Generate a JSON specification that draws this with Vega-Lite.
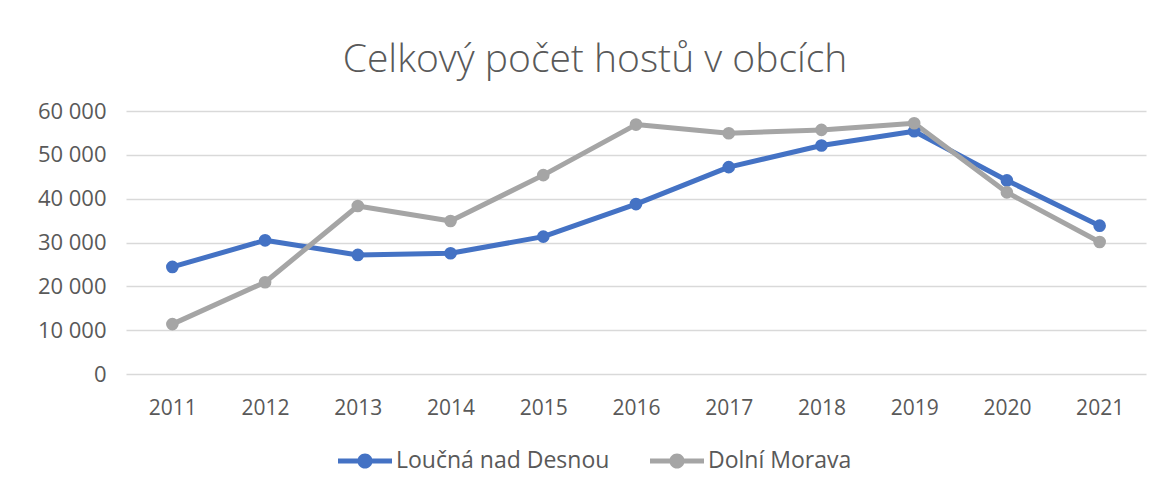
{
  "$schema": "https://vega.github.io/schema/vega-lite/v6.json",
  "width": 1020,
  "height": 263,
  "autosize": {"type": "none"},
  "padding": {"left": 126, "top": 111, "right": 23, "bottom": 116},
  "background": "white",
  "title": {
    "text": "Celkový počet hostů v obcích",
    "font": "Open Sans",
    "fontSize": 39,
    "fontWeight": 300,
    "color": "#595959",
    "anchor": "middle",
    "dx": -41,
    "offset": 20
  },
  "data": {
    "values": [
      {"rok": "2011", "obec": "Loučná nad Desnou", "hoste": 24430},
      {"rok": "2012", "obec": "Loučná nad Desnou", "hoste": 30500},
      {"rok": "2013", "obec": "Loučná nad Desnou", "hoste": 27160},
      {"rok": "2014", "obec": "Loučná nad Desnou", "hoste": 27540},
      {"rok": "2015", "obec": "Loučná nad Desnou", "hoste": 31340},
      {"rok": "2016", "obec": "Loučná nad Desnou", "hoste": 38770},
      {"rok": "2017", "obec": "Loučná nad Desnou", "hoste": 47190},
      {"rok": "2018", "obec": "Loučná nad Desnou", "hoste": 52120},
      {"rok": "2019", "obec": "Loučná nad Desnou", "hoste": 55390},
      {"rok": "2020", "obec": "Loučná nad Desnou", "hoste": 44160},
      {"rok": "2021", "obec": "Loučná nad Desnou", "hoste": 33840},
      {"rok": "2011", "obec": "Dolní Morava", "hoste": 11380},
      {"rok": "2012", "obec": "Dolní Morava", "hoste": 20940},
      {"rok": "2013", "obec": "Dolní Morava", "hoste": 38320},
      {"rok": "2014", "obec": "Dolní Morava", "hoste": 34900},
      {"rok": "2015", "obec": "Dolní Morava", "hoste": 45370},
      {"rok": "2016", "obec": "Dolní Morava", "hoste": 56900},
      {"rok": "2017", "obec": "Dolní Morava", "hoste": 54930},
      {"rok": "2018", "obec": "Dolní Morava", "hoste": 55690},
      {"rok": "2019", "obec": "Dolní Morava", "hoste": 57210},
      {"rok": "2020", "obec": "Dolní Morava", "hoste": 41430},
      {"rok": "2021", "obec": "Dolní Morava", "hoste": 30120}
    ]
  },
  "encoding": {
    "x": {
      "field": "rok",
      "type": "ordinal",
      "scale": {"type": "point", "padding": 0.5},
      "axis": {
        "title": null,
        "labelAngle": 0,
        "domain": false,
        "ticks": false,
        "grid": false,
        "labelPadding": 23,
        "labelFont": "Open Sans",
        "labelFontSize": 21,
        "labelColor": "#595959"
      }
    },
    "y": {
      "field": "hoste",
      "type": "quantitative",
      "scale": {"domain": [0, 60000], "nice": false},
      "axis": {
        "title": null,
        "values": [0, 10000, 20000, 30000, 40000, 50000, 60000],
        "labelExpr": "replace(format(datum.value, ',d'), ',', ' ')",
        "domain": false,
        "ticks": false,
        "grid": true,
        "gridColor": "#D9D9D9",
        "gridWidth": 1.5,
        "labelPadding": 20,
        "labelFont": "Open Sans",
        "labelFontSize": 22,
        "labelColor": "#595959"
      }
    },
    "color": {
      "field": "obec",
      "type": "nominal",
      "sort": ["Loučná nad Desnou", "Dolní Morava"],
      "scale": {"domain": ["Loučná nad Desnou", "Dolní Morava"], "range": ["#4472C4", "#A5A5A5"]},
      "legend": {
        "title": null,
        "orient": "none",
        "direction": "horizontal",
        "legendX": 212,
        "legendY": 323,
        "padding": 0,
        "symbolType": "M-1,-0.09L1,-0.09L1,0.09L-1,0.09Z M0.28,0A0.28,0.28 0 1 1 -0.28,0A0.28,0.28 0 1 1 0.28,0Z",
        "symbolSize": 2916,
        "symbolStrokeWidth": 0,
        "labelOffset": 4,
        "labelLimit": 0,
        "columnPadding": 40,
        "labelFont": "Open Sans",
        "labelFontSize": 23,
        "labelColor": "#595959",
        "encode": {
          "symbols": {
            "update": {
              "fill": {"scale": "color", "field": "value"},
              "stroke": {"value": "transparent"},
              "opacity": {"value": 1}
            }
          }
        }
      }
    }
  },
  "layer": [
    {
      "mark": {"type": "line", "strokeWidth": 5, "strokeCap": "round", "strokeJoin": "round"}
    },
    {
      "mark": {"type": "point", "filled": true, "size": 160, "opacity": 1}
    }
  ],
  "config": {
    "view": {"stroke": null}
  }
}
